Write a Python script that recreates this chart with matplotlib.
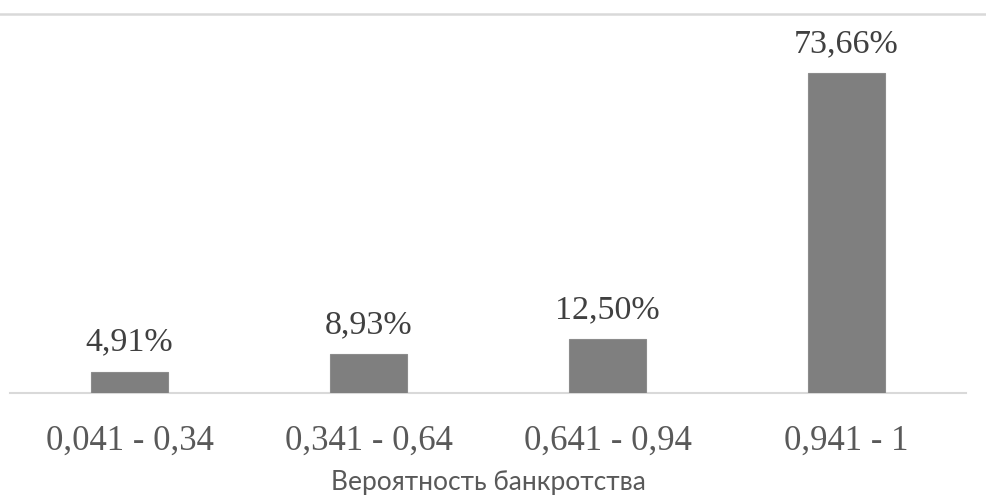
import matplotlib
matplotlib.use("Agg")
import matplotlib.pyplot as plt
from matplotlib.lines import Line2D

categories = ["0,041 - 0,34", "0,341 - 0,64", "0,641 - 0,94", "0,941 - 1"]
values = [4.91, 8.93, 12.50, 73.66]
value_labels = ["4,91%", "8,93%", "12,50%", "73,66%"]
xlabel = "Вероятность банкротства"

W, H = 986, 497
fig = plt.figure(figsize=(W / 100, H / 100), dpi=100)
ax = fig.add_axes([10 / W, (H - 393) / H, (966 - 10) / W, (393 - 14) / H])

x = range(len(categories))
bars = ax.bar(x, values, width=0.318, color="#7f7f7f", edgecolor="#8c8c8c", linewidth=0.8, zorder=3)
ax.set_xlim(-0.5, len(categories) - 0.5)
ax.set_ylim(0, 87.2)

for b, lab in zip(bars, value_labels):
    ax.annotate(lab, (b.get_x() + b.get_width() / 2, b.get_height()),
                xytext=(0, 10), textcoords="offset points", ha="center", va="bottom",
                fontsize=24.5, family="Liberation Serif", color="#404040")

ax.set_xticks(list(x))
ax.set_xticklabels(categories, fontsize=25, family="Liberation Serif", color="#595959")
ax.tick_params(axis="x", length=0, pad=23)
ax.set_yticks([])
for s in ["top", "left", "right"]:
    ax.spines[s].set_visible(False)
ax.spines["bottom"].set_color("#d9d9d9")
ax.spines["bottom"].set_linewidth(1.5)

fig.text(488 / W, (H - 490) / H, xlabel, ha="center", va="baseline",
         fontsize=19, family="Lato", color="#595959")

yline = (H - 14) / H
fig.add_artist(Line2D([0, 1], [yline, yline], transform=fig.transFigure, color="#d9d9d9", linewidth=1.8))

fig.savefig("out.png", dpi=100)
